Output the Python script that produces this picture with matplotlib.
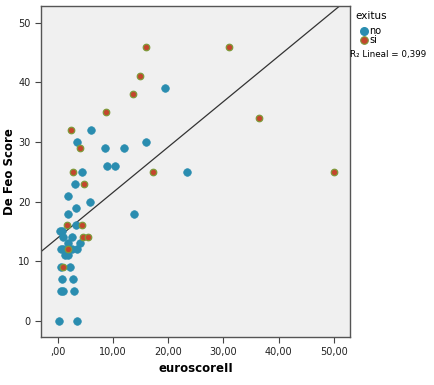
import matplotlib.pyplot as plt
import numpy as np

# exitus = no
no_x = [19.5, 6.1, 3.5, 8.65, 12.1, 15.95, 8.9, 10.4, 23.4, 4.5, 3.1, 1.9, 5.9,
        3.35, 1.9, 13.8, 3.35, 0.45, 0.8, 1.05, 2.6, 1.84, 4.07, 0.7, 1.05,
        2.56, 3.5, 1.36, 1.9, 0.7, 2.2, 0.76, 2.8, 0.63, 1.05, 2.93, 0.33, 3.5]
no_y = [39, 32, 30, 29, 29, 30, 26, 26, 25, 25, 23, 21, 20,
        19, 18, 18, 16, 15, 15, 14, 14, 13, 13, 12, 12,
        12, 12, 11, 11, 9, 9, 7, 7, 5, 5, 5, 0, 0]

# exitus = si
si_x = [16.0, 15.0, 13.7, 8.8, 2.4, 4.1, 17.3, 31.0, 36.4, 50.0, 2.74, 4.8,
        1.78, 4.4, 4.55, 5.45, 1.84, 0.94]
si_y = [46, 41, 38, 35, 32, 29, 25, 46, 34, 25, 25, 23,
        16, 16, 14, 14, 12, 9]

# fit line
fit_intercept = 13.9
fit_slope = 0.762
r2_text = "R\u2082 Lineal = 0,399"

xticks = [0, 10, 20, 30, 40, 50]
xtick_labels = [",00", "10,00", "20,00", "30,00", "40,00", "50,00"]
yticks = [0, 10, 20, 30, 40, 50]

blue = "#2a8db0"
red = "#c4462c"

fig = plt.figure(figsize=(4.34, 3.85), dpi=100)
ax = fig.add_axes([0.0945, 0.1247, 0.7115, 0.8597])
ax.set_facecolor("#f0f0f0")

xl = np.array([-3, 52.9])
ax.plot(xl, fit_intercept + fit_slope * xl, color="#333333", linewidth=0.9, zorder=2)

ax.scatter(no_x, no_y, s=30, color=blue, edgecolors=blue, linewidths=0.5, zorder=3)
ax.scatter(si_x, si_y, s=22, color=red, edgecolors="#7f9a3a", linewidths=0.9, zorder=3)

ax.set_xlim(-3, 52.9)
ax.set_ylim(-2.7, 52.8)
ax.set_xticks(xticks)
ax.set_xticklabels(xtick_labels)
ax.set_yticks(yticks)
ax.tick_params(direction="out", length=4, width=0.8, color="#444444",
               labelsize=7, labelcolor="#222222")
for sp in ax.spines.values():
    sp.set_color("#555555")
    sp.set_linewidth(1.0)

ax.set_xlabel("euroscoreII", fontsize=8.5, fontweight="bold")
ax.xaxis.set_label_coords(0.5, -0.075)
ax.set_ylabel("De Feo Score", fontsize=8.5, fontweight="bold")
ax.yaxis.set_label_coords(-0.08, 0.5)

# legend
lax = fig.add_axes([0, 0, 1, 1], facecolor="none")
lax.set_xlim(0, 434)
lax.set_ylim(385, 0)
lax.axis("off")
lax.text(355, 16, "exitus", fontsize=7.5, va="center")
lax.scatter([364], [31], s=30, color=blue)
lax.scatter([364], [40], s=30, color=red, edgecolors="#7f9a3a", linewidths=0.8)
lax.text(369, 31, "no", fontsize=7, va="center")
lax.text(369, 40, "si", fontsize=7, va="center")
lax.text(350, 54, r2_text, fontsize=6.3, va="center")

fig.savefig("out.png", dpi=100)
